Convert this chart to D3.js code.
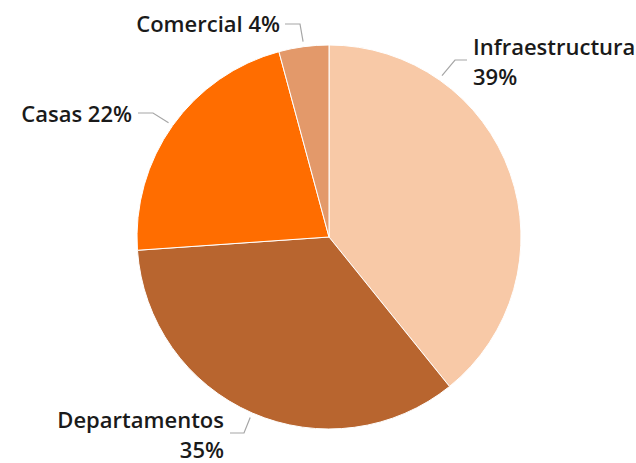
<!DOCTYPE html>
<html>
<head>
<meta charset="utf-8">
<script src="https://cdn.jsdelivr.net/npm/d3@7"></script>
<style>
  body { margin: 0; background: #fff; }
  svg { display: block; }
  .lbl { font-family: "Open Sans", "Noto Sans", sans-serif; font-size: 22px; font-weight: 600; fill: #1a1a1a; }
  .leader { fill: none; stroke: #a6a6a6; stroke-width: 1.2; }
</style>
</head>
<body>
<svg class="pie" width="636" height="463"></svg>
<script>
const categories = ["Infraestructura", "Departamentos", "Casas", "Comercial"];
const shares = [39.2, 34.7, 21.9, 4.2];
const colors = ["#F8C9A7", "#B8652F", "#FF6D00", "#E3996A"];

// label placement (Excel-style outside labels)
const labelLayout = [
  { x: 473, y: 55, anchor: "start", lines: 2, angle: 35, elbow: [[455, 60], [467, 60]] },
  { x: 224, y: 428, anchor: "end", lines: 2, angle: null, elbow: [[244, 433], [230, 433]] },
  { x: 132, y: 122, anchor: "end", lines: 1, angle: null, elbow: [[153, 113], [138, 113]] },
  { x: 280, y: 32, anchor: "end", lines: 1, angle: null, elbow: [[300, 24], [285, 24]] }
];

const svg = d3.select("svg.pie");
const cx = 329, cy = 237, radius = 192;

const total = d3.sum(shares);
const fmt = d3.format(".0%");

const pie = d3.pie().sort(null).value(d => d);
const arcs = pie(shares);
const arc = d3.arc().innerRadius(0).outerRadius(radius);

const g = svg.append("g").attr("transform", `translate(${cx},${cy})`);

g.selectAll("path.slice")
  .data(arcs)
  .enter().append("path")
    .attr("class", "slice")
    .attr("d", arc)
    .attr("fill", (d, i) => colors[i])
    .attr("stroke", "#fff")
    .attr("stroke-width", 1);

const line = d3.line();

arcs.forEach((d, i) => {
  const L = labelLayout[i];
  const a = L.angle !== null ? L.angle * Math.PI / 180 : (d.startAngle + d.endAngle) / 2;
  const r = radius + 5;
  const start = [cx + Math.sin(a) * r, cy - Math.cos(a) * r];
  svg.append("path")
    .attr("class", "leader")
    .attr("d", line([start, ...L.elbow]));

  const text = svg.append("text")
    .attr("class", "lbl")
    .attr("text-anchor", L.anchor)
    .attr("x", L.x)
    .attr("y", L.y);
  const pct = fmt(d.data / total);
  if (L.lines === 2) {
    text.append("tspan").attr("x", L.x).text(categories[i]);
    text.append("tspan").attr("x", L.x).attr("dy", 30).text(pct);
  } else {
    text.text(categories[i] + " " + pct);
  }
});
</script>
</body>
</html>
